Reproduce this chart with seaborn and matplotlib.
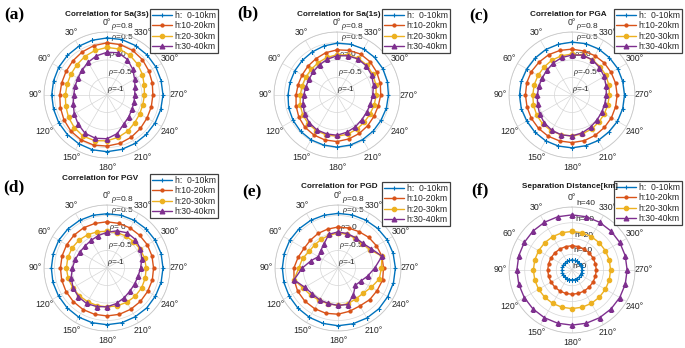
import numpy as np
import matplotlib.pyplot as plt
import seaborn as sns

# === data (rho for correlation panels, km for separation panel) ===
ANGLES = [0, 15, 30, 45, 60, 75, 90, 105, 120, 135, 150, 165,
          180, 195, 210, 225, 240, 255, 270, 285, 300, 315, 330, 345]
SERIES_LABELS = ["h:  0-10km", "h:10-20km", "h:20-30km", "h:30-40km"]

# Sa(3s)
SA3_H0 = [.63, .62, .61, .60, .59, .58, .58, .58, .59, .60, .61, .62, .62, .61, .60, .59, .59, .59, .60, .60, .61, .62, .63, .64]
SA3_H1 = [.49, .46, .42, .38, .35, .34, .35, .38, .42, .46, .48, .48, .46, .43, .39, .35, .32, .31, .31, .34, .38, .43, .47, .49]
SA3_H2 = [.36, .32, .27, .22, .19, .18, .19, .22, .27, .32, .36, .35, .31, .25, .19, .12, .08, .06, .07, .10, .17, .24, .31, .36]
SA3_H3 = [.22, .16, .08, .01, -.04, -.05, -.05, .00, .08, .17, .26, .28, .25, .14, -.04, -.12, -.18, -.20, -.21, -.17, -.09, .04, .17, .25]
# Sa(1s)
SA1_H0 = [.48, .45, .42, .40, .39, .39, .40, .43, .45, .47, .48, .48, .49, .48, .47, .46, .45, .46, .47, .49, .51, .52, .52, .50]
SA1_H1 = [.29, .25, .20, .17, .15, .15, .17, .21, .26, .30, .32, .33, .33, .30, .27, .24, .22, .22, .25, .28, .31, .34, .35, .32]
SA1_H2 = [.15, .11, .07, .04, .03, .03, .05, .09, .13, .16, .18, .18, .18, .16, .13, .10, .09, .10, .12, .15, .18, .21, .21, .18]
SA1_H3 = [.12, .06, .00, -.05, -.08, -.08, -.05, .01, .07, .12, .15, .15, .15, .10, .05, .00, -.02, -.01, .02, .08, .14, .18, .19, .16]
# PGA
PGA_H0 = [.51, .50, .50, .49, .49, .50, .50, .50, .49, .50, .51, .51, .51, .50, .50, .49, .50, .50, .50, .50, .51, .51, .52, .52]
PGA_H1 = [.31, .32, .33, .33, .34, .34, .33, .33, .34, .35, .36, .36, .36, .35, .33, .31, .30, .29, .29, .29, .29, .30, .30, .30]
PGA_H2 = [.17, .16, .15, .13, .12, .12, .12, .14, .16, .18, .18, .18, .17, .15, .12, .09, .07, .06, .07, .09, .12, .14, .16, .17]
PGA_H3 = [.14, .11, .06, .01, -.02, -.02, -.01, .02, .07, .12, .16, .18, .17, .12, .06, .01, -.02, -.03, -.02, .01, .06, .11, .16, .18]
# PGV
PGV_H0 = [.55, .56, .57, .58, .59, .59, .59, .60, .60, .61, .62, .62, .62, .62, .61, .61, .60, .60, .60, .60, .59, .58, .57, .56]
PGV_H1 = [.32, .32, .33, .33, .33, .33, .33, .34, .35, .36, .37, .37, .37, .37, .36, .35, .34, .34, .33, .33, .33, .32, .32, .32]
PGV_H2 = [.05, .07, .10, .13, .15, .16, .16, .15, .13, .12, .11, .11, .11, .12, .13, .14, .14, .13, .12, .11, .09, .07, .06, .05]
PGV_H3 = [.02, -.04, -.09, -.11, -.10, -.06, -.01, .06, .12, .16, .17, .14, .11, .05, -.02, -.07, -.09, -.08, -.04, .03, .10, .15, .16, .10]
# PGD
PGD_H0 = [.56, .56, .57, .58, .59, .59, .59, .60, .61, .62, .63, .64, .65, .65, .65, .65, .64, .64, .64, .63, .62, .60, .58, .57]
PGD_H1 = [.17, .15, .14, .12, .12, .18, .26, .30, .33, .34, .34, .34, .32, .28, .25, .28, .29, .32, .30, .30, .27, .24, .20, .18]
PGD_H2 = [.00, -.03, -.05, -.06, -.05, .05, .12, .30, .15, .10, .07, .06, .07, .06, .02, .02, .10, .22, .24, .30, .05, -.02, -.02, .00]
PGD_H3 = [.03, .00, -.20, -.30, -.35, -.20, .02, .30, .10, .04, .05, .05, .07, .08, -.12, -.30, -.25, -.12, .05, .30, .10, .00, .00, .02]
# separation distance [km]
SEP_H0 = [6.3, 6.3, 6.3, 6.3, 6.3, 6.3, 6.3, 6.3, 6.3, 6.3, 6.3, 6.3, 6.3, 6.3, 6.3, 6.3, 6.3, 6.3, 6.3, 6.3, 6.3, 6.3, 6.3, 6.3]
SEP_H1 = [15.4, 15.4, 15.4, 15.4, 15.4, 15.4, 15.4, 15.4, 15.4, 15.4, 15.4, 15.4, 15.4, 15.4, 15.4, 15.4, 15.4, 15.4, 15.4, 15.4, 15.4, 15.4, 15.4, 15.4]
SEP_H2 = [24.5, 24.5, 24.5, 24.5, 24.5, 24.5, 24.5, 24.5, 24.5, 24.5, 24.5, 24.5, 24.5, 24.5, 24.5, 24.5, 24.5, 24.5, 24.5, 24.5, 24.5, 24.5, 24.5, 24.5]
SEP_H3 = [35.0, 35.0, 35.0, 35.0, 35.0, 35.0, 35.0, 35.0, 35.0, 35.0, 35.0, 35.0, 35.0, 35.0, 35.0, 35.0, 35.0, 35.0, 35.0, 35.0, 35.0, 35.0, 35.0, 35.0]

RHO_TICKS = [-1, -0.5, 0, 0.5, 0.8]
RHO_TICK_LABELS = [r"$\rho$=-1", r"$\rho$=-0.5", r"$\rho$= 0", r"$\rho$=0.5", r"$\rho$=0.8"]
H_TICKS = [0, 10, 20, 30, 40]
H_TICK_LABELS = ["h=0", "h=10", "h=20", "h=30", "h=40"]

# === style ===
COLORS = ["#0072BD", "#D95319", "#EDB120", "#7E2F8E"]
MARKERS = ["+", ".", "o", "^"]
MSIZES = [3.5, 4.5, 3.2, 3.5]
TEXT_C = "#262626"
GRID_C = "#d6d6d6"

sns.set_theme(style="white")
plt.rcParams["font.family"] = ["Liberation Sans", "DejaVu Sans"]
plt.rcParams["mathtext.fontset"] = "custom"
plt.rcParams["mathtext.it"] = "Liberation Serif:italic"

W, H = 685, 348
fig = plt.figure(figsize=(6.85, 3.48), dpi=100)

# (letter, title, series, is_distance, center_px, title_px, letter_px, legend_px)
panels = [
    ("(a)", "Correlation for Sa(3s)", [SA3_H0, SA3_H1, SA3_H2, SA3_H3], False, (107, 95), (107, 14), (4, 15), (218, 9)),
    ("(b)", "Correlation for Sa(1s)", [SA1_H0, SA1_H1, SA1_H2, SA1_H3], False, (337, 95), (339, 14), (237, 13), (450, 9)),
    ("(c)", "Correlation for PGA", [PGA_H0, PGA_H1, PGA_H2, PGA_H3], False, (572, 95), (568, 14), (469, 16), (682, 9)),
    ("(d)", "Correlation for PGV", [PGV_H0, PGV_H1, PGV_H2, PGV_H3], False, (107, 268), (100, 178), (3, 187), (218, 174)),
    ("(e)", "Correlation for PGD", [PGD_H0, PGD_H1, PGD_H2, PGD_H3], False, (338, 268), (339, 187), (242, 192), (450, 182)),
    ("(f)", "Separation Distance[km]", [SEP_H0, SEP_H1, SEP_H2, SEP_H3], True, (572, 270), (570, 187), (471, 190), (682, 181)),
]

R = 63
theta = np.deg2rad(np.append(ANGLES, 360))

for letter, title, series, is_dist, (cx, cy), (tx, ty), (lx, ly), (gx, gy) in panels:
    ax = fig.add_axes([(cx - R) / W, (H - cy - R) / H, 2 * R / W, 2 * R / H], projection="polar")
    ax.set_theta_zero_location("N")
    ax.set_theta_direction(1)

    for vals, lab, c, m, ms in zip(series, SERIES_LABELS, COLORS, MARKERS, MSIZES):
        r = np.append(vals, vals[0])
        sns.lineplot(x=theta, y=r, ax=ax, sort=False, estimator=None, color=c, marker=m,
                     markersize=ms, markeredgecolor=c, markeredgewidth=0.8, linewidth=1.0, label=lab)

    if is_dist:
        ax.set_rlim(0, 40)
        ax.set_rticks(H_TICKS)
        ax.set_yticklabels(H_TICK_LABELS)
    else:
        ax.set_rlim(-1, 0.8)
        ax.set_rticks(RHO_TICKS)
        ax.set_yticklabels(RHO_TICK_LABELS)
    ax.set_rlabel_position(-4)
    ax.set_thetagrids(range(0, 360, 30), labels=[f"{a}°" for a in range(0, 360, 30)])
    ax.tick_params(axis="x", labelsize=6.3, labelcolor=TEXT_C, length=0, pad=-0.5)
    ax.tick_params(axis="y", labelsize=6.0, labelcolor=TEXT_C, length=0)
    ax.grid(True, color=GRID_C, linewidth=0.5)
    ax.spines["polar"].set_color("#c8c8c8")
    ax.spines["polar"].set_linewidth(0.6)
    ax.set_xlabel("")
    ax.set_ylabel("")

    leg = ax.legend(loc="upper right", bbox_to_anchor=(gx / W, 1 - gy / H), bbox_transform=fig.transFigure,
                    fontsize=6.2, frameon=True, fancybox=False, edgecolor="#404040", framealpha=1,
                    borderpad=0.25, labelspacing=0.15, handlelength=2.3, handletextpad=0.3, borderaxespad=0)
    leg.get_frame().set_linewidth(0.9)

    fig.text(tx / W, 1 - ty / H, title, ha="center", va="center", fontsize=5.9, fontweight="bold", color="#1a1a1a")
    fig.text(lx / W, 1 - ly / H, letter, ha="left", va="center", fontsize=12.5, fontweight="bold",
             family="Liberation Serif", color="black")

fig.savefig("out.png", dpi=100)
